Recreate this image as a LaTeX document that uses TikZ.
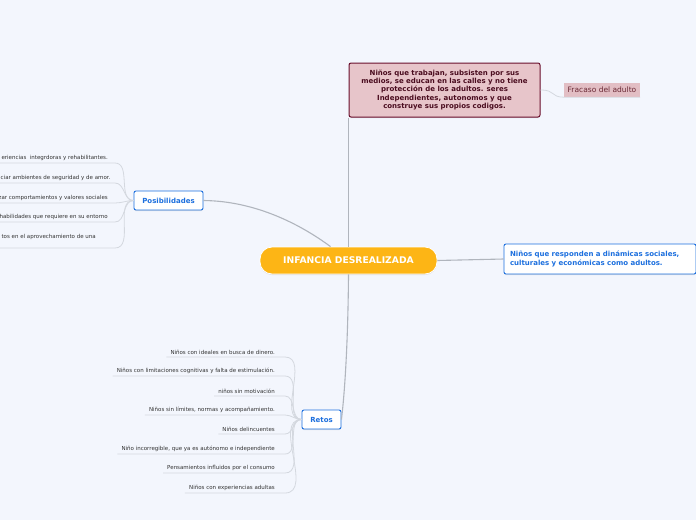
\documentclass[tikz,border=0pt]{standalone}
\usepackage{fontspec}
\setmainfont{DejaVu Sans}
\usetikzlibrary{shadows}
\definecolor{bg}{HTML}{F3F6FD}
\definecolor{orng}{HTML}{FDB515}
\definecolor{pinkf}{HTML}{E7C5CA}
\definecolor{maroonb}{HTML}{6A0F2C}
\definecolor{marotext}{HTML}{4A0C1F}
\definecolor{frf}{HTML}{E2BEC4}
\definecolor{frt}{HTML}{6B2A36}
\definecolor{blu}{HTML}{1C6FDE}
\definecolor{conn}{HTML}{B0B5BD}
\definecolor{cconn}{HTML}{D4D8DF}
\definecolor{ctext}{HTML}{333333}
\begin{document}
\begin{tikzpicture}[x=1pt,y=-1pt,
  mainconn/.style={draw=conn, line width=1.1pt},
  childconn/.style={draw=cconn, line width=0.8pt},
  shad/.style={drop shadow={shadow xshift=0pt, shadow yshift=-1pt, opacity=0.2}},
  bluebox/.style={shad, draw=blu, line width=0.9pt, fill=white, rounded corners=2pt,
    text=blu, font=\fontsize{7}{9}\selectfont\bfseries, inner sep=0pt},
  rchild/.style={anchor=south east, inner xsep=4pt, inner ysep=2.5pt,
    font=\fontsize{5.5}{7}\selectfont, text=ctext},
  lchild/.style={anchor=south east, inner xsep=0pt, inner ysep=2.5pt,
    font=\fontsize{5.5}{7}\selectfont, text=ctext}
]
\fill[bg] (0,0) rectangle (696,520);
\useasboundingbox (0,0) rectangle (696,520);

% central node
\node[shad, draw=white, line width=0.8pt, fill=orng, rounded corners=12pt,
  minimum width=177pt, minimum height=27pt, inner sep=0pt,
  text=white, font=\fontsize{9.2}{11}\selectfont\bfseries]
  (cen) at (348.5,260.5) {INFANCIA DESREALIZADA};

% top node
\node[shad, draw=maroonb, line width=1pt, fill=pinkf, rounded corners=2pt,
  minimum width=191pt, minimum height=54pt, inner sep=0pt, align=center,
  text=marotext, font=\fontsize{7}{8.3}\selectfont\bfseries]
  (top) at (444.5,90) {Niños que trabajan, subsisten por sus\\medios, se educan en las calles y no tiene\\protección de los adultos. seres\\Independientes, autonomos y que\\construye sus propios codigos.};

\node[fill=frf, minimum width=76pt, minimum height=14pt, inner sep=0pt,
  text=frt, font=\fontsize{7.5}{9}\selectfont]
  (fr) at (602,90) {Fracaso del adulto};

% right node
\node[bluebox, minimum width=192pt, minimum height=30pt, text width=180pt, align=left]
  (der) at (600,259) {Niños que responden a dinámicas sociales,\\culturales y económicas como adultos.};

% Posibilidades and Retos
\node[bluebox, minimum width=69pt, minimum height=19pt] (pos) at (168.5,200.5) {Posibilidades};
\node[bluebox, minimum width=39pt, minimum height=19pt] (ret) at (321.5,419.5) {Retos};

% main connectors
\draw[mainconn] (cen.north) -- (cen.north |- top.south);
\draw[mainconn] (pos.east) .. controls (255,201) and (300,224) .. ([xshift=-18pt]cen.north);
\draw[mainconn] (cen.east) -- (der.west);
\draw[mainconn] (cen.south) .. controls (348,340) and (345,390) .. (ret.east);
\draw[childconn] (top.east) .. controls (556,90) and (550,97) .. (fr.south west) -- (fr.south east);

% Posibilidades children
\node[lchild] (p1) at (108,163) {eriencias\ \ integrdoras y rehabilitantes.};
\node[lchild, anchor=south west] (p2) at (0.5,183) {ciar ambientes de seguridad y de amor.};
\node[lchild] (p3) at (108,203) {zar comportamientos y valores sociales};
\node[lchild] (p4) at (108,222) {habilidades que requiere en su entorno};
\node[lchild, inner ysep=8.5pt] (p5) at (96,248) {tos en el aprovechamiento de una};
\foreach \c in {p1,p2,p3,p4,p5}{
  \draw[childconn] (\c.south -| 0,0) -- (\c.south -| 115,0) to[out=0,in=180] (pos.west);
}

% Retos children
\node[rchild] (r1) at (279,357) {Niños con ideales en busca de dinero.};
\node[rchild] (r2) at (279,376) {Niños con limitaciones cognitivas y falta de estimulación.};
\node[rchild] (r3) at (279,396) {niños sin motivación};
\node[rchild] (r4) at (279,415) {Niños sin límites, normas y acompañamiento.};
\node[rchild] (r5) at (279,434) {Niños delincuentes};
\node[rchild] (r6) at (279,454) {Niño incorregible, que ya es autónomo e independiente};
\node[rchild] (r7) at (279,473) {Pensamientos influidos por el consumo};
\node[rchild] (r8) at (279,493) {Niños con experiencias adultas};
\foreach \c in {r1,r2,r3,r4,r5,r6,r7,r8}{
  \draw[childconn] (\c.south west) -- (\c.south -| 285,0) to[out=0,in=180] (ret.west);
}
\end{tikzpicture}
\end{document}
